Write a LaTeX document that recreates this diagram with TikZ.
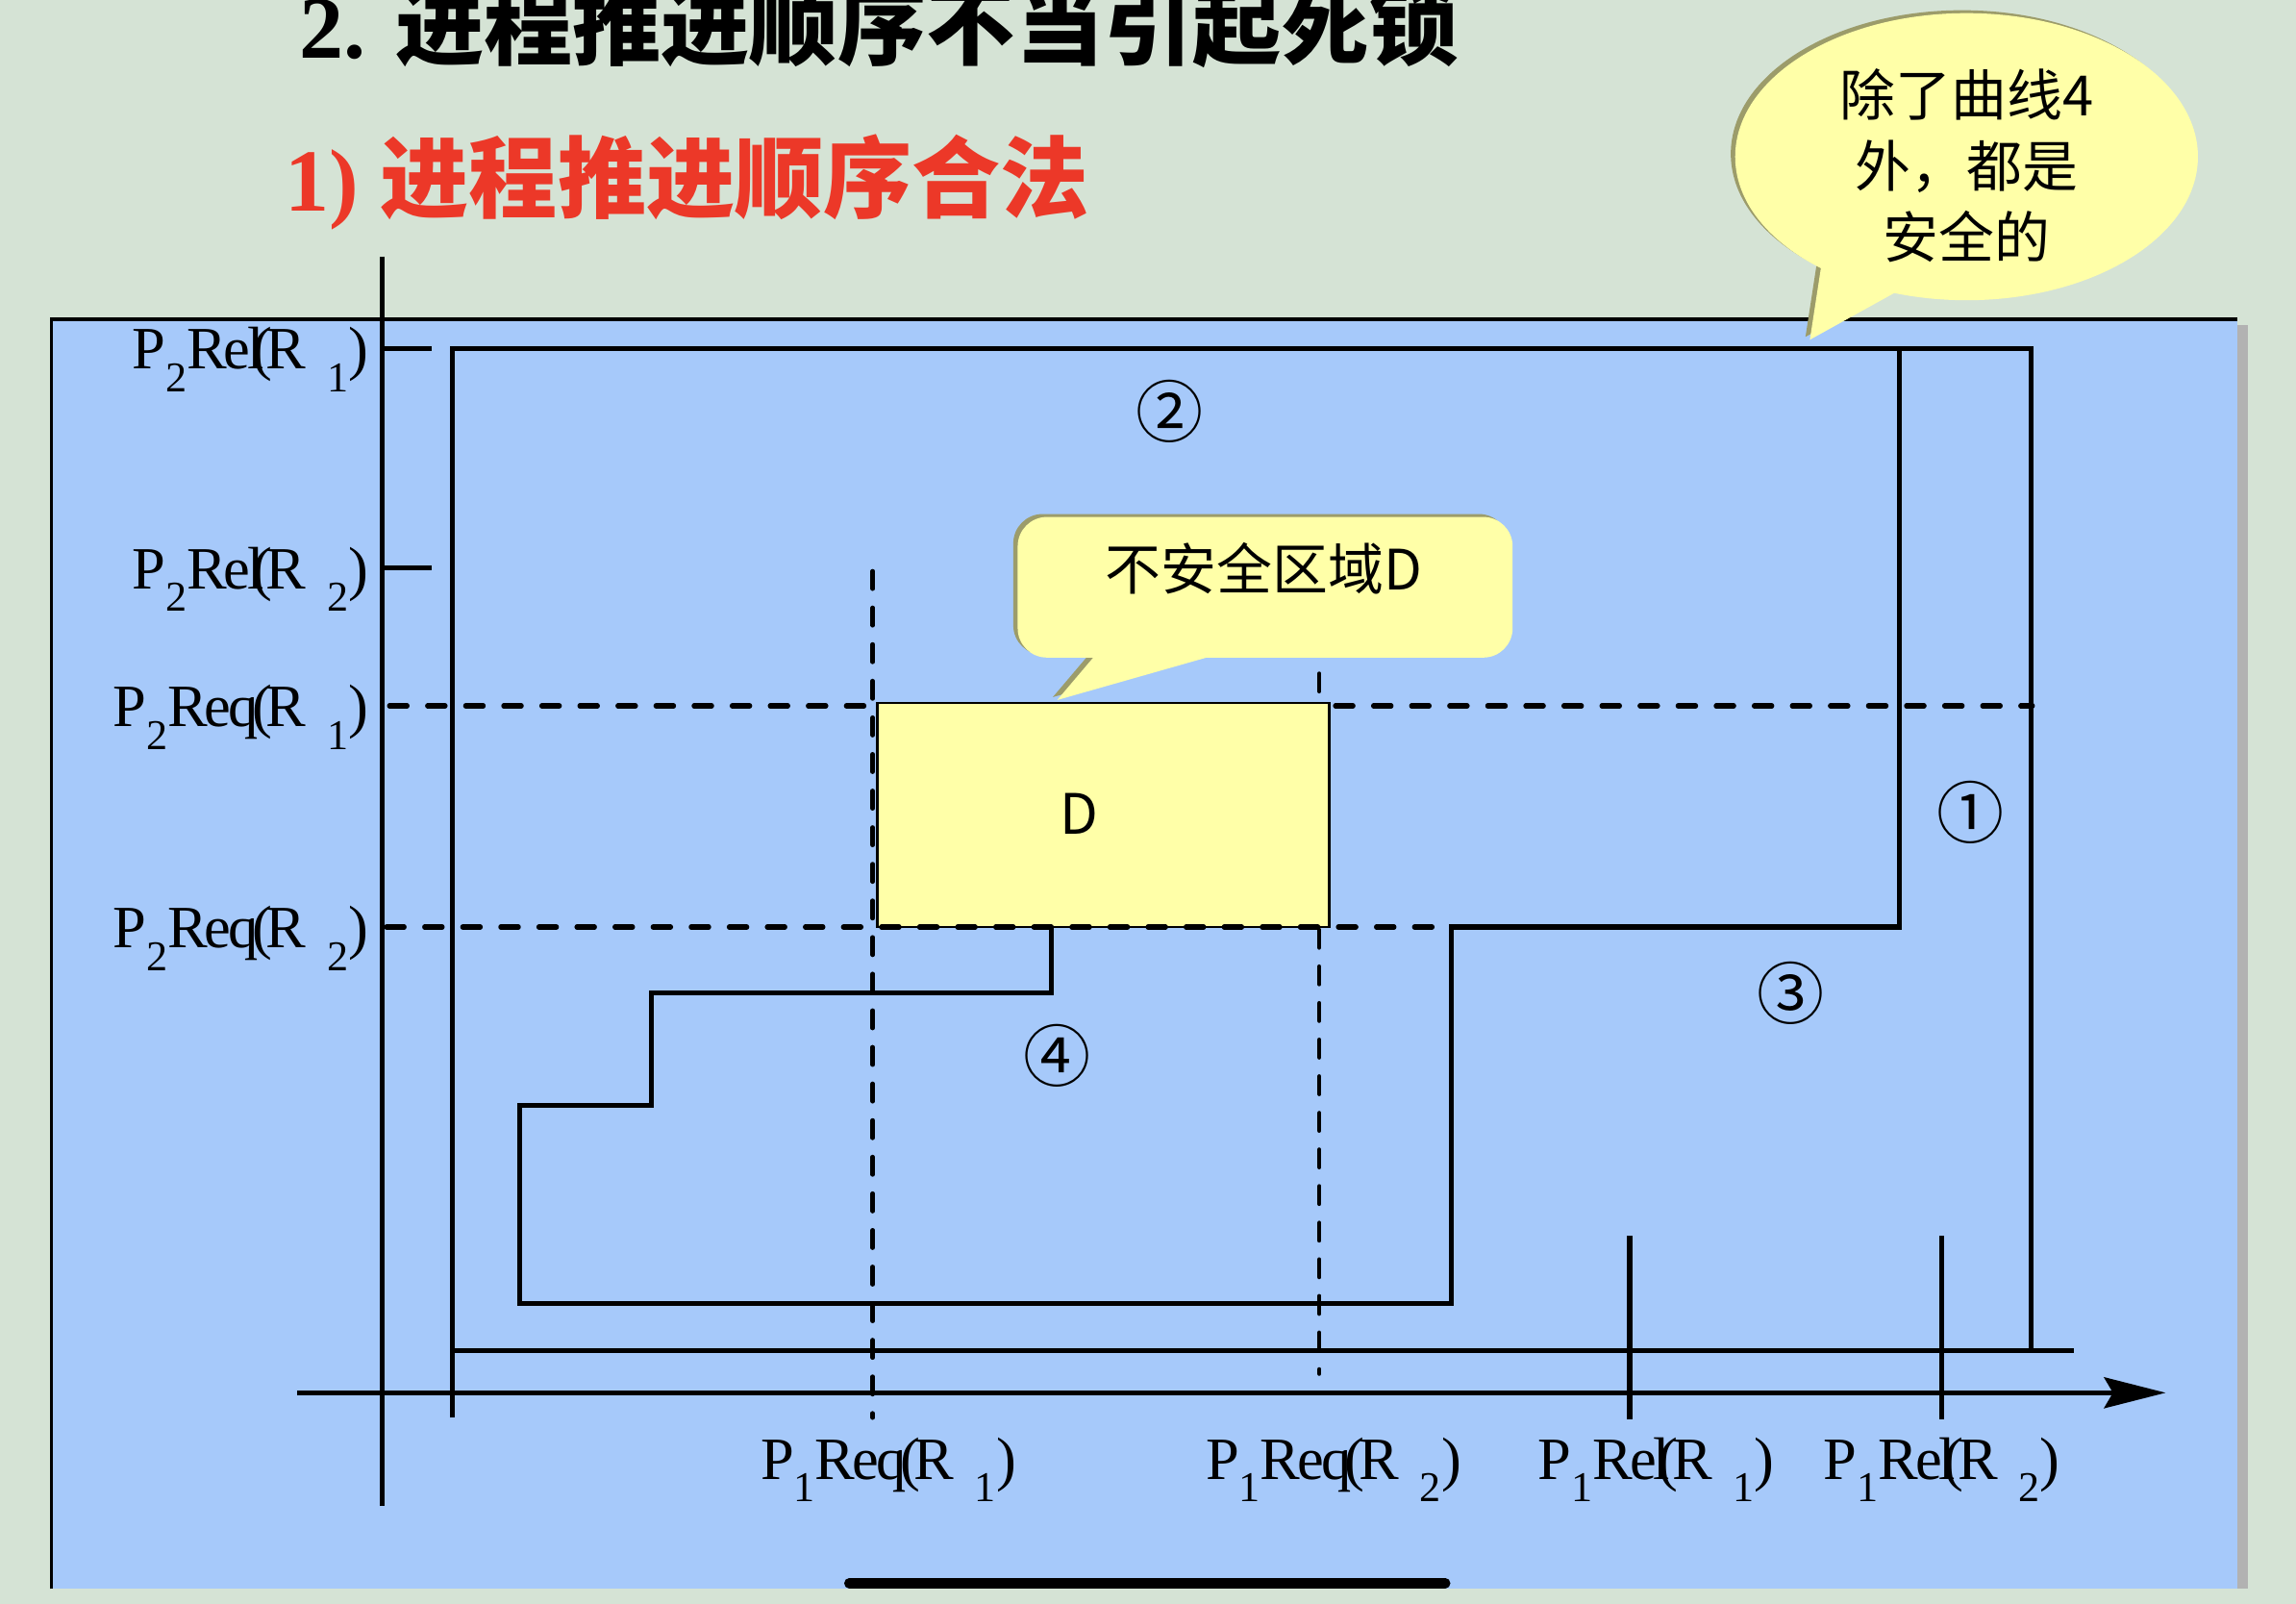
\documentclass[tikz,border=0pt]{standalone}
\usepackage{fontspec}
\setmainfont{Liberation Serif}
\newfontfamily\cjk{Noto Sans CJK SC}
\usetikzlibrary{arrows.meta}
\definecolor{bgc}{RGB}{213,227,213}
\definecolor{bluec}{RGB}{166,201,250}
\definecolor{yel}{RGB}{255,255,168}
\definecolor{shad}{RGB}{156,156,106}
\definecolor{redt}{RGB}{236,56,40}
\newcommand{\subsz}{\fontsize{14.5}{14.5}\selectfont}
\newcommand{\plab}[4]{P\raisebox{-0.38em}{\subsz #1}R\kern-0.05em e\kern-0.05em #2\kern#4(\kern-0.1em R\kern0.35em\raisebox{-0.38em}{\subsz #3})}
\begin{document}
\begin{tikzpicture}[x=0.5pt,y=-0.5pt,
  curve/.style={line width=1.7pt},
  dshh/.style={line width=1.7pt, dash pattern=on 6pt off 7pt, line cap=round},
  dshv/.style={line width=1.5pt, dash pattern=on 6pt off 6.5pt, line cap=round},
  lab/.style={inner sep=0pt, font=\fontsize{20.5}{20.5}\selectfont},
  circ/.style={inner sep=0pt, font=\cjk\fontsize{23}{23}\selectfont},
  cjktext/.style={inner sep=0pt, font=\cjk\fontsize{19}{24.25}\selectfont, align=center}]
\useasboundingbox (0,0) rectangle (1568,1095);
\fill[bgc] (0,0) rectangle (1568,1095);
% blue panel
\fill[black!30] (1528,222) rectangle (1535,1085);
\fill[bluec] (35,218) rectangle (1528,1085);
\draw[line width=1pt] (35,1085) -- (35,218) -- (1528,218);
% title texts
\node[anchor=base west, inner sep=0pt] (title) at (204,39.5)
  {\fontsize{30.25}{30.25}\selectfont\bfseries 2. {\cjk\bfseries 进程推进顺序不当引起死锁}};
\node[anchor=base west, inner sep=0pt, text=redt] (subtitle) at (194,144)
  {\fontsize{30.25}{30.25}\selectfont\bfseries 1) {\cjk\bfseries 进程推进顺序合法}};
% ellipse callout
\begin{scope}[shift={(-3,-2)}]
  \fill[shad] (1343,107) ellipse [x radius=158, y radius=98];
  \fill[shad] (1244,180) -- (1236,232) -- (1301,196) -- cycle;
\end{scope}
\fill[yel] (1343,107) ellipse [x radius=158, y radius=98];
\fill[yel] (1244,180) -- (1236,232) -- (1301,196) -- cycle;
\node[cjktext] (note) at (1343,113) {除了曲线4\\外，都是\\安全的};
% axes
\draw[line width=1.7pt] (261,175) -- (261,1028);
\draw[line width=1.7pt, -{Stealth[length=21pt, width=10.5pt, inset=3pt]}] (203,951) -- (1479,951);
% ticks
\draw[curve] (261,238) -- (295,238);
\draw[curve] (261,388) -- (295,388);
\draw[curve] (1113,844) -- (1113,969);
\draw[curve] (1326,844) -- (1326,969);
% curves
\draw[curve] (309,968) -- (309,238) -- (1387,238) -- (1387,922);
\draw[curve] (309,922) -- (1416,922);
\draw[curve] (1297,238) -- (1297,633) -- (991,633) -- (991,890) -- (355,890) -- (355,755)
  -- (445,755) -- (445,678) -- (718,678) -- (718,633);
% dashed guide lines
\draw[dshh] (266,482) -- (596,482);
\draw[dshh] (912,482) -- (1388,482);
\draw[dshv] (596,390) -- (596,968);
\draw[dshv] (901,460) -- (901,938);
% unsafe region D
\draw[fill=yel, line width=0.9pt] (599,480) rectangle (908,633);
\node[cjktext] (dlab) at (737,556) {D};
\draw[dshh] (264,633) -- (990,633);
% rounded callout
\begin{scope}[shift={(-3,-2)}]
  \fill[shad, rounded corners=10pt] (695,353) rectangle (1033,449);
  \fill[shad] (750,445) -- (722,478) -- (838,445) -- cycle;
\end{scope}
\fill[yel, rounded corners=10pt] (695,353) rectangle (1033,449);
\fill[yel] (750,445) -- (722,478) -- (838,445) -- cycle;
\node[cjktext] (unsafe) at (863,388) {不安全区域D};
% circled numbers
\node[circ] (c1) at (1346,555) {①};
\node[circ] (c2) at (799,281) {②};
\node[circ] (c3) at (1223,678) {③};
\node[circ] (c4) at (722,721) {④};
% y labels
\node[lab, anchor=base east] (y1) at (252,252) {\plab{2}{l}{1}{-0.2em}};
\node[lab, anchor=base east] (y2) at (252,402) {\plab{2}{l}{2}{-0.2em}};
\node[lab, anchor=base east] (y3) at (252,496) {\plab{2}{q}{1}{-0.1em}};
\node[lab, anchor=base east] (y4) at (252,647) {\plab{2}{q}{2}{-0.1em}};
% x labels
\node[lab, anchor=base west] (x1) at (519,1010) {\plab{1}{q}{1}{-0.1em}};
\node[lab, anchor=base west] (x2) at (823,1010) {\plab{1}{q}{2}{-0.1em}};
\node[lab, anchor=base west] (x3) at (1050,1010) {\plab{1}{l}{1}{-0.2em}};
\node[lab, anchor=base west] (x4) at (1245,1010) {\plab{1}{l}{2}{-0.2em}};
% home bar
\draw[line width=3.5pt, line cap=round] (580,1081) -- (987,1081);
\end{tikzpicture}
\end{document}
